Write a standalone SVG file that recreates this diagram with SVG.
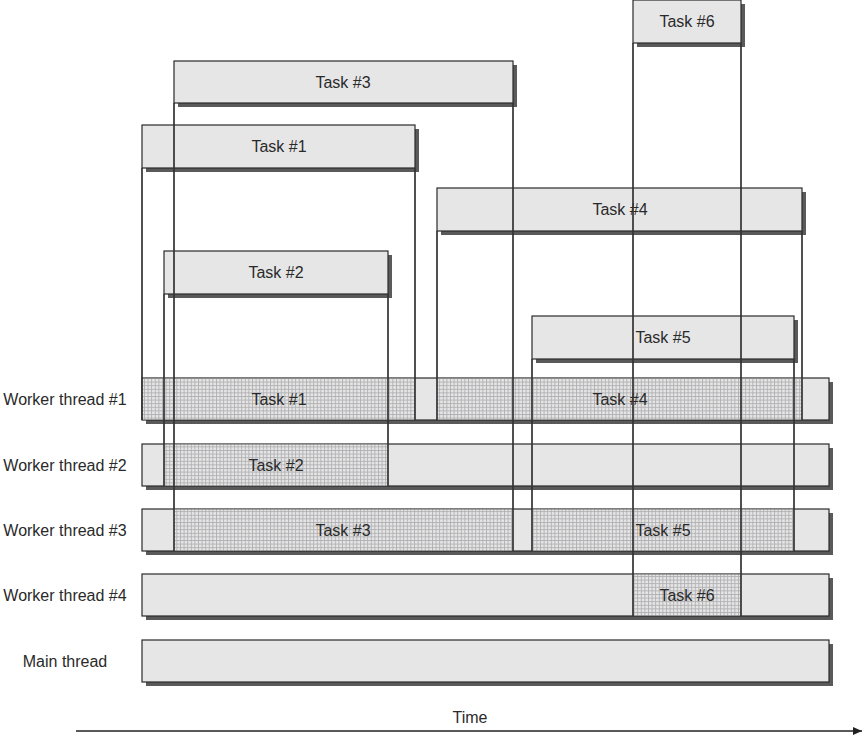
<svg xmlns="http://www.w3.org/2000/svg" width="865" height="736" viewBox="0 0 865 736">
<defs>
<pattern id="hatch" patternUnits="userSpaceOnUse" width="3.6" height="3.6">
<rect width="3.6" height="3.6" fill="#e6e6e7"/>
<path d="M0 0.5H3.6M0.5 0V3.6" stroke="#b0b0b2" stroke-width="0.9"/>
</pattern>
<marker id="arr" markerWidth="10" markerHeight="10" refX="9" refY="5" orient="auto" markerUnits="userSpaceOnUse">
<path d="M0 1L9 5L0 9Z" fill="#222"/>
</marker>
<style>
.shadow{fill:#5a5a5a}
.box{fill:#e6e6e7;stroke:#2a2a2a;stroke-width:1.2}
.hatch{fill:url(#hatch)}
.vl{stroke:#333;stroke-width:1.7;fill:none}
text{font-family:"Liberation Sans",Arial,sans-serif;font-size:16px;fill:#2a2a2a}
.c{text-anchor:middle}
</style>
</defs>

<g id="thread-bars">
<g id="worker1">
<rect class="shadow" x="146" y="382" width="687" height="42"/>
<rect class="box" x="142" y="378" width="687" height="42"/>
<rect class="hatch" x="142.6" y="378.6" width="272.4" height="40.8"/>
<rect class="hatch" x="437" y="378.6" width="365" height="40.8"/>
<text x="65" y="405" class="c">Worker thread #1</text>
<text x="279" y="405" class="c">Task #1</text>
<text x="620" y="405" class="c">Task #4</text>
</g>
<g id="worker2">
<rect class="shadow" x="146" y="448" width="687" height="42"/>
<rect class="box" x="142" y="444" width="687" height="42"/>
<rect class="hatch" x="164" y="444.6" width="224" height="40.8"/>
<text x="65" y="471" class="c">Worker thread #2</text>
<text x="276" y="471" class="c">Task #2</text>
</g>
<g id="worker3">
<rect class="shadow" x="146" y="513" width="687" height="42"/>
<rect class="box" x="142" y="509" width="687" height="42"/>
<rect class="hatch" x="174" y="509.6" width="339" height="40.8"/>
<rect class="hatch" x="532" y="509.6" width="262" height="40.8"/>
<text x="65" y="536" class="c">Worker thread #3</text>
<text x="343" y="536" class="c">Task #3</text>
<text x="663" y="536" class="c">Task #5</text>
</g>
<g id="worker4">
<rect class="shadow" x="146" y="578" width="687" height="42"/>
<rect class="box" x="142" y="574" width="687" height="42"/>
<rect class="hatch" x="633" y="574.6" width="108" height="40.8"/>
<text x="65" y="601" class="c">Worker thread #4</text>
<text x="687" y="601" class="c">Task #6</text>
</g>
<g id="main">
<rect class="shadow" x="146" y="644" width="687" height="42"/>
<rect class="box" x="142" y="640" width="687" height="42"/>
<text x="65" y="667" class="c">Main thread</text>
</g>
</g>

<g id="task3">
<rect class="shadow" x="178" y="65" width="339" height="42"/>
<rect class="box" x="174" y="61" width="339" height="42"/>
<text x="343" y="88" class="c">Task #3</text>
</g>
<g id="task1">
<rect class="shadow" x="146" y="129" width="273" height="43"/>
<rect class="box" x="142" y="125" width="273" height="43"/>
<text x="279" y="152" class="c">Task #1</text>
</g>
<g id="task6">
<rect class="shadow" x="637" y="4" width="108" height="43"/>
<rect class="box" x="633" y="0" width="108" height="43"/>
<text x="687" y="27" class="c">Task #6</text>
</g>
<g id="task4">
<rect class="shadow" x="441" y="192" width="365" height="43"/>
<rect class="box" x="437" y="188" width="365" height="43"/>
<text x="620" y="215" class="c">Task #4</text>
</g>
<g id="task2">
<rect class="shadow" x="168" y="255" width="224" height="43"/>
<rect class="box" x="164" y="251" width="224" height="43"/>
<text x="276" y="278" class="c">Task #2</text>
</g>
<g id="task5">
<rect class="shadow" x="536" y="320" width="262" height="43"/>
<rect class="box" x="532" y="316" width="262" height="43"/>
<text x="663" y="343" class="c">Task #5</text>
</g>

<g id="connectors">
<path class="vl" d="M142 168V420M415 168V420"/>
<path class="vl" d="M174 103V551M513 103V551"/>
<path class="vl" d="M164 294V486M388 294V486"/>
<path class="vl" d="M437 231V420M802 231V420"/>
<path class="vl" d="M532 359V551M794 359V551"/>
<path class="vl" d="M633 43V616M741 43V616"/>
<line x1="76" y1="731" x2="862" y2="731" stroke="#222" stroke-width="1.5" marker-end="url(#arr)"/>
</g>
<text x="470" y="723" class="c">Time</text>
</svg>
